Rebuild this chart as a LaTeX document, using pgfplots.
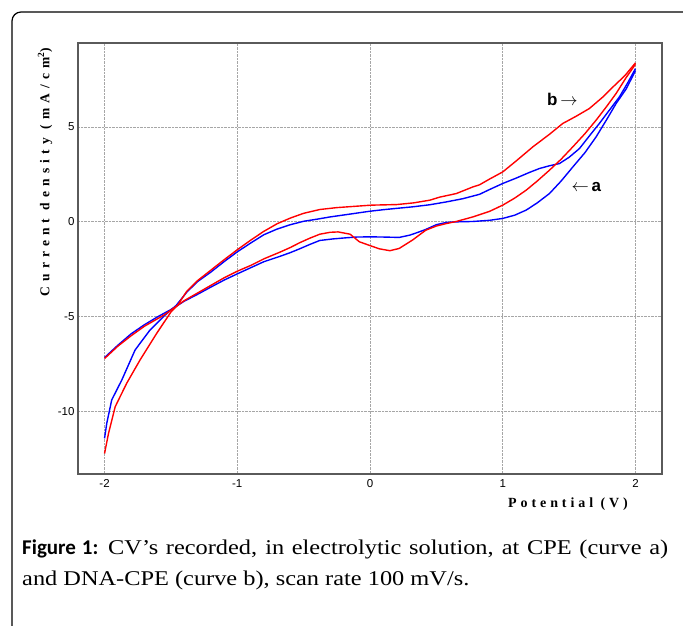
\documentclass[border=0pt]{standalone}
\usepackage{fontspec}
\setmainfont{Liberation Serif}
\newfontfamily\arial{Liberation Sans}
\newfontfamily\calibri{Carlito}
\newfontfamily\capfont[FakeStretch=1.16]{Liberation Serif}
\usepackage{pgfplots}
\pgfplotsset{compat=1.18}
\definecolor{cvblue}{RGB}{0,0,255}
\definecolor{cvred}{RGB}{255,0,0}
\definecolor{frame}{RGB}{90,90,90}
\begin{document}
\begin{tikzpicture}[x=1pt,y=1pt]
\useasboundingbox (0,0) rectangle (683,626);
\draw[line width=1.2pt, rounded corners=9pt] (12,-20) -- (12,614) -- (693,614);
\begin{axis}[
  at={(78pt,152pt)}, anchor=south west,
  scale only axis, width=584pt, height=431pt,
  xmin=-2.2, xmax=2.2, ymin=-13.28, ymax=9.42,
  xtick={-2,-1,0,1,2}, xticklabels={-2,-1,0,1,2},
  ytick={-10,-5,0,5}, yticklabels={-10,-5,0,5},
  major tick length=0pt,
  tick label style={font=\arial\fontsize{11.5}{13}\selectfont},
  xticklabel style={yshift=-2pt},
  grid=major,
  grid style={densely dotted, color=gray!70, line width=0.8pt},
  axis line style={draw=frame, line width=1.8pt},
  clip=true,
]
% curve a (blue) forward
\addplot[cvblue, line width=1.4pt, line join=round] coordinates {
(-2.00,-11.4) (-1.983,-10.6) (-1.946,-9.38) (-1.87,-8.33) (-1.77,-6.75) (-1.658,-5.7) (-1.55,-4.95) (-1.46,-4.4)
(-1.38,-3.7) (-1.30,-3.15) (-1.20,-2.65) (-1.10,-2.1) (-1.00,-1.58) (-0.90,-1.12) (-0.80,-0.68) (-0.70,-0.38)
(-0.60,-0.15) (-0.50,0.03) (-0.40,0.14) (-0.30,0.26) (-0.20,0.36) (-0.10,0.46) (0.00,0.56) (0.10,0.64)
(0.20,0.71) (0.32,0.79) (0.45,0.9) (0.575,1.05) (0.70,1.22) (0.825,1.45) (0.90,1.7) (1.00,2.02)
(1.10,2.3) (1.20,2.6) (1.277,2.81) (1.35,2.95) (1.427,3.07) (1.50,3.4) (1.578,3.86) (1.65,4.5)
(1.728,5.18) (1.80,5.85) (1.879,6.58) (1.94,7.3) (2.00,8.07)
};
% curve a (blue) reverse
\addplot[cvblue, line width=1.4pt, line join=round] coordinates {
(2.00,7.96) (1.93,7.0) (1.854,6.23) (1.78,5.35) (1.703,4.47) (1.62,3.65) (1.528,2.89) (1.44,2.15)
(1.352,1.49) (1.26,1.0) (1.177,0.62) (1.09,0.35) (1.00,0.18) (0.90,0.08) (0.775,0.02) (0.65,0.0)
(0.575,-0.03) (0.50,-0.15) (0.42,-0.4) (0.37,-0.53) (0.30,-0.7) (0.22,-0.82) (0.10,-0.8) (0.00,-0.79)
(-0.10,-0.8) (-0.18,-0.84) (-0.28,-0.9) (-0.378,-0.98) (-0.45,-1.18) (-0.53,-1.42) (-0.60,-1.62) (-0.68,-1.82)
(-0.80,-2.1) (-0.90,-2.42) (-1.00,-2.74) (-1.10,-3.07) (-1.20,-3.44) (-1.30,-3.82) (-1.40,-4.18) (-1.46,-4.45)
(-1.50,-4.62) (-1.60,-5.0) (-1.70,-5.42) (-1.80,-5.9) (-1.90,-6.5) (-2.00,-7.15)
};
% curve b (red) forward
\addplot[cvred, line width=1.4pt, line join=round] coordinates {
(-2.00,-12.2) (-1.97,-11.14) (-1.92,-9.74) (-1.833,-8.5) (-1.733,-7.28) (-1.607,-5.87) (-1.50,-4.75) (-1.45,-4.4)
(-1.38,-3.65) (-1.30,-3.1) (-1.20,-2.55) (-1.10,-2.0) (-1.00,-1.47) (-0.90,-0.97) (-0.80,-0.5) (-0.70,-0.1)
(-0.60,0.2) (-0.50,0.45) (-0.378,0.65) (-0.25,0.75) (-0.09,0.83) (0.01,0.88) (0.20,0.91) (0.33,1.0)
(0.45,1.14) (0.524,1.3) (0.65,1.49) (0.775,1.84) (0.825,1.95) (0.90,2.25) (1.00,2.63) (1.10,3.2)
(1.227,3.95) (1.35,4.6) (1.452,5.18) (1.55,5.55) (1.653,5.97) (1.75,6.55) (1.83,7.1) (1.92,7.7) (2.00,8.37)
};
% curve b (red) reverse
\addplot[cvred, line width=1.4pt, line join=round] coordinates {
(2.00,8.3) (1.93,7.6) (1.854,6.76) (1.78,6.05) (1.703,5.35) (1.62,4.65) (1.528,3.95) (1.44,3.3)
(1.352,2.72) (1.26,2.15) (1.177,1.67) (1.09,1.25) (1.00,0.88) (0.90,0.55) (0.775,0.26) (0.65,0.02)
(0.575,-0.09) (0.50,-0.22) (0.42,-0.44) (0.32,-0.96) (0.22,-1.4) (0.15,-1.52) (0.07,-1.42) (0.00,-1.25)
(-0.08,-1.05) (-0.15,-0.65) (-0.24,-0.53) (-0.30,-0.55) (-0.378,-0.65) (-0.45,-0.85) (-0.53,-1.1) (-0.60,-1.35)
(-0.68,-1.6) (-0.80,-1.95) (-0.90,-2.3) (-1.00,-2.6) (-1.10,-2.95) (-1.20,-3.35) (-1.30,-3.75) (-1.40,-4.15)
(-1.46,-4.45) (-1.55,-4.9) (-1.60,-5.1) (-1.70,-5.5) (-1.80,-6.0) (-1.90,-6.55) (-2.00,-7.2)
};
\node[font=\arial\bfseries\fontsize{17}{20}\selectfont, inner sep=0pt] at (axis cs:1.45,6.45) {b\,{\normalfont\fontsize{16}{18}\selectfont$\rightarrow$}};
\node[font=\arial\bfseries\fontsize{17}{20}\selectfont, inner sep=0pt] at (axis cs:1.63,1.85) {{\normalfont\fontsize{16}{18}\selectfont$\leftarrow$}\,a};
\end{axis}
\node[rotate=90, font=\bfseries\fontsize{13.5}{15}\selectfont\addfontfeature{LetterSpace=38}] at (45,454) {Current density (mA/cm\textsuperscript{2})};
\node[font=\bfseries\fontsize{14}{16}\selectfont\addfontfeature{LetterSpace=28}] at (568,122) {Potential (V)};
\node[anchor=base west, inner sep=0pt, font=\fontsize{21}{24}\selectfont] at (22,71) {\makebox[646pt][s]{{\calibri\bfseries Figure 1:} {\capfont CV’s recorded, in electrolytic solution, at CPE (curve a)}}};
\node[anchor=base west, inner sep=0pt, font=\fontsize{21}{24}\selectfont] at (22,40) {\capfont and DNA-CPE (curve b), scan rate 100 mV/s.};
\end{tikzpicture}
\end{document}
